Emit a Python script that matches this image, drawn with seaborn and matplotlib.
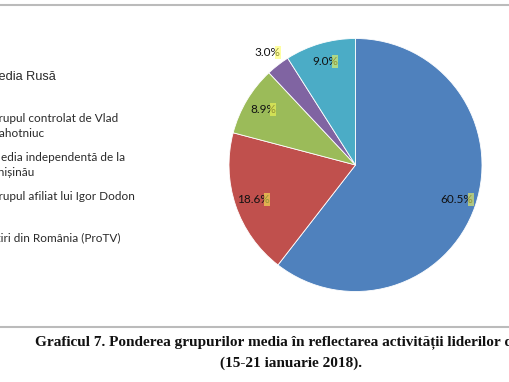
import matplotlib.pyplot as plt
from matplotlib.patches import Rectangle
import seaborn as sns

# data
groups = ['Media Rusă', 'Grupul controlat de Vlad\nPlahotniuc',
          'Media independentă de la\nChișinău', 'Grupul afiliat lui Igor Dodon',
          'Știri din România (ProTV)']
share = [60.5, 18.6, 8.9, 3.0, 9.0]
colors = ['#4F81BD', '#C0504D', '#9BBB59', '#8064A2', '#4BACC6']
caption1 = 'Graficul 7. Ponderea grupurilor media în reflectarea activității liderilor de opinie'
caption2 = '(15-21 ianuarie 2018).'

sns.set_style('white')
plt.rcParams['font.family'] = ['Lato', 'DejaVu Sans']

W, H = 510, 382
fig = plt.figure(figsize=(W / 100, H / 100), dpi=100)

# pie axes: centre ~ (355.5, 165) px, radius ~126.5 px
cx, cy, r = 355.5, 165, 126.5
ax = fig.add_axes([(cx - r) / W, (H - cy - r) / H, 2 * r / W, 2 * r / H])
wedges, _, pcts = ax.pie(share, colors=sns.color_palette(colors), startangle=90,
                         counterclock=False, autopct='%1.1f%%', pctdistance=0.85,
                         wedgeprops=dict(linewidth=0.6, edgecolor='white'),
                         textprops=dict(fontsize=8.5, color='#111111'))
ax.set_xlim(-1, 1)
ax.set_ylim(-1, 1)
ax.set_aspect('equal')

# small slice label sits outside the pie
x, y = pcts[3].get_position()
pcts[3].set_position((x * 1.33, y * 1.33))

# yellow search highlight on the "%" signs (as in the screenshot)
fig.canvas.draw()
rend = fig.canvas.get_renderer()
for t in pcts:
    bb = t.get_window_extent(rend)
    fig.add_artist(Rectangle((bb.x1 - 6, bb.y0 - 1), 6, bb.height + 2,
                             transform=None, facecolor='#ffff55', alpha=0.55,
                             edgecolor='none', zorder=1.5))
for t in pcts:
    t.set_zorder(3)

# legend text (colour keys are cut off at the left edge of the screenshot)
fig.text(-12.5 / W, 1 - 77 / H, groups[0], ha='left', va='center', fontsize=9.2,
         family='Liberation Sans', color='#2a2a2a')
ys = [126, 165, 197, 238]
for lab, yy in zip(groups[1:], ys):
    fig.text(-10 / W, 1 - yy / H, lab, ha='left', va='center', fontsize=8.5,
             linespacing=1.4, color='#2a2a2a')

# rules of the page
fig.add_artist(plt.Line2D([0, 1], [1 - 4.5 / H, 1 - 4.5 / H], color='#bbbbbb', lw=1.5))
fig.add_artist(plt.Line2D([0, 1], [1 - 327 / H, 1 - 327 / H], color='#bbbbbb', lw=1.5))

# caption
fig.text(35 / W, 1 - 342 / H, caption1, ha='left', va='center', fontsize=11,
         family='Liberation Serif', fontweight='bold', color='#111111')
fig.text(291 / W, 1 - 363 / H, caption2, ha='center', va='center', fontsize=11,
         family='Liberation Serif', fontweight='bold', color='#111111')

fig.savefig('out.png', dpi=100)
